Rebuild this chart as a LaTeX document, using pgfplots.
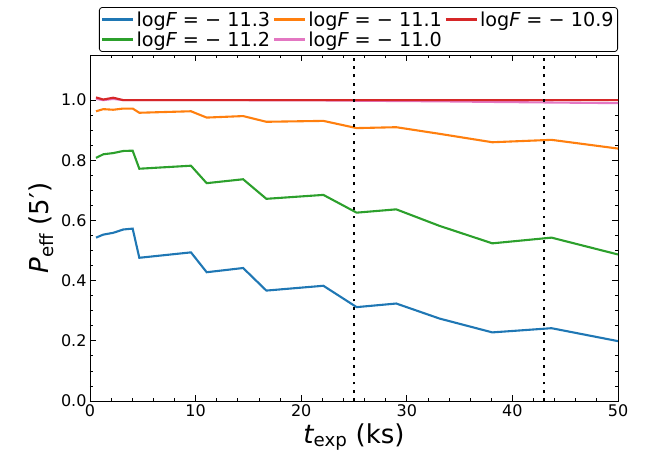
\documentclass[border=0pt]{standalone}
\usepackage{pgfplots}
\pgfplotsset{compat=1.18}
\usepackage{fontspec}
\setmainfont{DejaVu Sans}
\definecolor{tblue}{HTML}{1F77B4}
\definecolor{torange}{HTML}{FF7F0E}
\definecolor{tgreen}{HTML}{2CA02C}
\definecolor{tred}{HTML}{D62728}
\definecolor{tpink}{HTML}{E377C2}

\begin{document}
\begin{tikzpicture}
\begin{axis}[
    scale only axis,
    width=528pt, height=346pt,
    xmin=0, xmax=50, ymin=0, ymax=1.15,
    xtick={0,10,20,30,40,50}, minor x tick num=4,
    ytick={0,0.2,0.4,0.6,0.8,1.0}, minor y tick num=3,
    tick align=inside,
    major tick length=6pt, minor tick length=3.5pt,
    tick style={black, line width=0.8pt},
    axis line style={line width=0.8pt},
    /pgf/number format/assume math mode=true,
    yticklabel style={/pgf/number format/.cd, fixed, fixed zerofill, precision=1},
    ticklabel style={font=\fontsize{16}{18}\selectfont},
    label style={font=\fontsize{26}{30}\selectfont},
    xlabel={{\itshape t}\textsubscript{exp} (ks)},
    ylabel={{\itshape P}\textsubscript{eff} (5′)},
    legend columns=3,
    legend cell align=left,
    legend style={at={(1,1)}, anchor=south east, yshift=3pt,
        font=\fontsize{19.2}{22}\selectfont, draw=black, line width=0.8pt,
        rounded corners=3pt, inner sep=2pt,
        /tikz/every even column/.append style={column sep=1pt}},
    legend image code/.code={\draw[#1, line width=2.2pt] (0pt,0pt) -- (31pt,0pt);},
    every axis plot/.append style={line width=2.1pt},
]
\addplot[tblue, forget plot] coordinates {
 (0.57,0.543) (1.26,0.553) (2.2,0.559) (3.15,0.570) (4.04,0.573)
 (4.67,0.476) (9.56,0.494) (11.05,0.428) (14.5,0.442) (16.7,0.367)
 (22.1,0.383) (25.25,0.312) (29.0,0.324) (33.1,0.274) (38.1,0.228)
 (43.7,0.242) (50,0.199)};
\addplot[tgreen, forget plot] coordinates {
 (0.57,0.808) (1.26,0.820) (2.2,0.824) (3.15,0.831) (4.04,0.832)
 (4.67,0.772) (9.56,0.782) (11.05,0.724) (14.5,0.737) (16.7,0.672)
 (22.1,0.685) (25.25,0.626) (29.0,0.637) (33.1,0.582) (38.1,0.524)
 (43.7,0.543) (50,0.487)};
\addplot[torange, forget plot] coordinates {
 (0.57,0.963) (1.26,0.970) (2.2,0.968) (3.15,0.972) (4.04,0.972)
 (4.67,0.958) (9.56,0.963) (11.05,0.942) (14.5,0.947) (16.7,0.928)
 (22.1,0.931) (25.25,0.907) (29.0,0.910) (33.1,0.888) (38.1,0.860)
 (43.7,0.868) (50,0.839)};
\addplot[tpink, forget plot] coordinates {
 (0.57,1.004) (1.26,1.000) (2.2,1.004) (3.15,1.000) (4.04,1.000)
 (4.67,1.000) (9.56,1.000) (11.05,1.000) (14.5,1.000) (16.7,0.999)
 (22.1,0.999) (25.25,0.998) (29.0,0.997) (33.1,0.996) (38.1,0.994)
 (43.7,0.992) (50,0.990)};
\addplot[tred, forget plot] coordinates {
 (0.57,1.009) (1.26,1.002) (2.2,1.008) (3.15,1.000) (4.04,1.000)
 (4.67,1.000) (9.56,1.000) (11.05,1.000) (14.5,1.000) (16.7,1.000)
 (22.1,1.000) (25.25,1.000) (29.0,1.000) (33.1,1.000) (38.1,1.000)
 (43.7,1.000) (50,1.000)};
\addplot[black, line width=2.8pt, dash pattern=on 2.8pt off 5.5pt, forget plot]
 coordinates {(25,0) (25,1.15)};
\addplot[black, line width=2.8pt, dash pattern=on 2.8pt off 5.5pt, forget plot]
 coordinates {(43,0) (43,1.15)};

\addlegendimage{tblue}
\addlegendentry{log{\itshape F} = − 11.3}
\addlegendimage{torange}
\addlegendentry{log{\itshape F} = − 11.1}
\addlegendimage{tred}
\addlegendentry{log{\itshape F} = − 10.9}
\addlegendimage{tgreen}
\addlegendentry{log{\itshape F} = − 11.2}
\addlegendimage{tpink}
\addlegendentry{log{\itshape F} = − 11.0}
\end{axis}
\path (current axis.south west) ++(-90pt,-65pt) rectangle ++(656pt,466pt);
\end{tikzpicture}
\end{document}
